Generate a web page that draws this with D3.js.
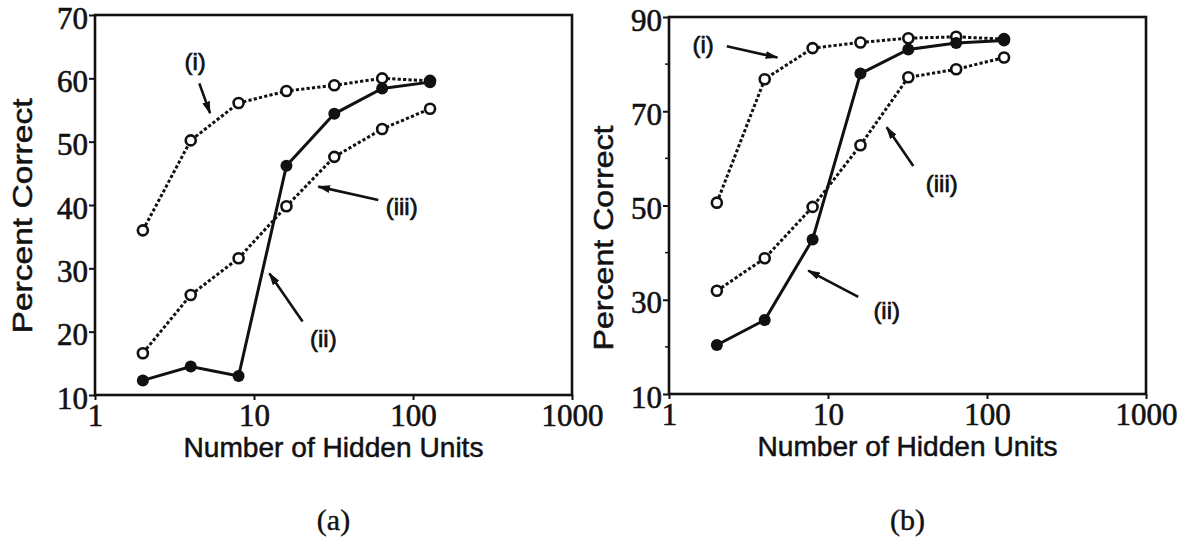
<!DOCTYPE html>
<html lang="en">
<head>
<meta charset="UTF-8">
<title>Percent Correct vs Hidden Units</title>
<script src="https://d3js.org/d3.v7.min.js"></script>
<style>
  body { margin: 0; background: #fff; }
  .tick-label { font-family: "Liberation Serif", "DejaVu Serif", serif; font-size: 31px; fill: #111; stroke: #111; stroke-width: 0.6; }
  .axis-title { font-family: "Liberation Sans", Arial, sans-serif; font-size: 28px; fill: #111; stroke: #111; stroke-width: 0.5; }
  .note { font-family: "Liberation Sans", Arial, sans-serif; font-size: 24px; fill: #111; stroke: #111; stroke-width: 0.7; }
  .caption { font-family: "Liberation Serif", "DejaVu Serif", serif; font-size: 30px; fill: #111; stroke: #111; stroke-width: 0.4; }
</style>
</head>
<body>
<div id="chart"></div>
<script>
// x values shared by every curve
const hiddenUnits = [2, 4, 8, 16, 32, 64, 128];
const xTicks = [1, 10, 100, 1000];

// panel (a)
const aCurveI   = [36.0, 50.2, 56.1, 58.0, 58.9, 60.0, 59.6];
const aCurveII  = [12.3, 14.5, 13.0, 46.2, 54.4, 58.4, 59.4];
const aCurveIII = [16.6, 25.8, 31.6, 39.8, 47.6, 52.0, 55.2];
const aYTicks = [10, 20, 30, 40, 50, 60, 70];

// panel (b)
const bCurveI   = [50.6, 76.8, 83.4, 84.6, 85.5, 85.8, 85.3];
const bCurveII  = [20.4, 25.7, 42.8, 78.0, 83.1, 84.5, 85.0];
const bCurveIII = [31.9, 38.8, 49.7, 62.8, 77.2, 78.9, 81.4];
const bYTicks = [10, 30, 50, 70, 90];
const bYMinor = [20, 40, 60, 80];

// curve labels: text position and arrow (from -> to), in data units
const aNotes = [
  { text: "(i)",   at: [4.26, 62.6], from: [4.53, 59.2], to: [5.29, 54.5] },
  { text: "(iii)", at: [84.9, 39.7], from: [60.5, 40.8], to: [25.4, 42.9] },
  { text: "(ii)",  at: [27.3, 19.0], from: [20.2, 21.6], to: [12.5, 29.2] }
];
const bNotes = [
  { text: "(i)",   at: [1.64, 84.1], from: [2.31, 83.8], to: [4.80, 81.4] },
  { text: "(iii)", at: [51.9, 54.7], from: [34.4, 58.4], to: [23.4, 66.6] },
  { text: "(ii)",  at: [23.4, 27.8], from: [15.5, 30.6], to: [7.52, 36.2] }
];

const W = 1186, H = 556;

const svg = d3.select("#chart").append("svg")
  .attr("width", W)
  .attr("height", H);

svg.append("rect").attr("width", W).attr("height", H).attr("fill", "#fff");

const defs = svg.append("defs");
defs.append("marker")
  .attr("id", "head")
  .attr("viewBox", "0 0 10 6")
  .attr("refX", 9)
  .attr("refY", 3)
  .attr("markerWidth", 5)
  .attr("markerHeight", 3)
  .attr("markerUnits", "strokeWidth")
  .attr("orient", "auto")
  .append("path")
  .attr("d", "M0,0 L10,3 L0,6 Z")
  .attr("fill", "#111");

function drawPanel(cfg) {
  const x = d3.scaleLog().domain([1, 1000]).range([cfg.left, cfg.right]);
  const y = d3.scaleLinear().domain(cfg.yDomain).range([cfg.bottom, cfg.top]);
  const g = svg.append("g");

  // frame
  g.append("rect")
    .attr("x", cfg.left).attr("y", cfg.top)
    .attr("width", cfg.right - cfg.left)
    .attr("height", cfg.bottom - cfg.top)
    .attr("fill", "none")
    .attr("stroke", "#111")
    .attr("stroke-width", 2.6);

  // y axis
  const yAxis = g.append("g")
    .attr("transform", `translate(${cfg.left},0)`)
    .call(d3.axisLeft(y).tickValues(cfg.yTicks).tickSize(6).tickPadding(1).tickFormat(d3.format("d")));
  yAxis.select(".domain").remove();
  yAxis.selectAll("line").attr("stroke", "#111").attr("stroke-width", 2);
  yAxis.selectAll("text").attr("class", "tick-label").attr("dy", "0.42em");

  if (cfg.yMinor) {
    g.selectAll(".yminor").data(cfg.yMinor).enter().append("line")
      .attr("x1", cfg.left - 4).attr("x2", cfg.left)
      .attr("y1", d => y(d)).attr("y2", d => y(d))
      .attr("stroke", "#111").attr("stroke-width", 1.5);
  }

  // x axis
  const xAxis = g.append("g")
    .attr("transform", `translate(0,${cfg.bottom})`)
    .call(d3.axisBottom(x).tickValues(xTicks).tickSize(5).tickPadding(1).tickFormat(d3.format("d")));
  xAxis.select(".domain").remove();
  xAxis.selectAll("line").attr("stroke", "#111").attr("stroke-width", 2);
  xAxis.selectAll("text").attr("class", "tick-label").attr("dy", "0.8em");

  // axis titles
  g.append("text")
    .attr("class", "axis-title")
    .attr("text-anchor", "middle")
    .attr("x", (cfg.left + cfg.right) / 2)
    .attr("y", cfg.bottom + 62)
    .attr("textLength", 300)
    .attr("lengthAdjust", "spacingAndGlyphs")
    .text("Number of Hidden Units");

  g.append("text")
    .attr("class", "axis-title")
    .attr("text-anchor", "middle")
    .attr("dominant-baseline", "central")
    .attr("transform", `translate(${cfg.yTitleX},${cfg.yTitleY}) rotate(-90)`)
    .attr("textLength", cfg.yTitleLen)
    .attr("lengthAdjust", "spacingAndGlyphs")
    .text("Percent Correct");

  // caption
  g.append("text")
    .attr("class", "caption")
    .attr("text-anchor", "middle")
    .attr("x", (cfg.left + cfg.right) / 2)
    .attr("y", 530)
    .text(cfg.caption);

  const line = d3.line()
    .x((d, i) => x(hiddenUnits[i]))
    .y(d => y(d));

  // dotted curves (i) and (iii), then solid (ii) on top
  [cfg.curveI, cfg.curveIII].forEach(vals => {
    g.append("path")
      .datum(vals)
      .attr("d", line)
      .attr("fill", "none")
      .attr("stroke", "#111")
      .attr("stroke-width", 3)
      .attr("stroke-dasharray", "3.2,2.2");
  });
  g.append("path")
    .datum(cfg.curveII)
    .attr("d", line)
    .attr("fill", "none")
    .attr("stroke", "#111")
    .attr("stroke-width", 3);

  [cfg.curveI, cfg.curveIII].forEach(vals => {
    g.selectAll(null).data(vals).enter().append("circle")
      .attr("cx", (d, i) => x(hiddenUnits[i]))
      .attr("cy", d => y(d))
      .attr("r", 5)
      .attr("fill", "#fff")
      .attr("stroke", "#111")
      .attr("stroke-width", 2.6);
  });
  g.selectAll(null).data(cfg.curveII).enter().append("circle")
    .attr("cx", (d, i) => x(hiddenUnits[i]))
    .attr("cy", d => y(d))
    .attr("r", 6)
    .attr("fill", "#111");

  // labels with pointers
  cfg.notes.forEach(n => {
    g.append("line")
      .attr("x1", x(n.from[0])).attr("y1", y(n.from[1]))
      .attr("x2", x(n.to[0])).attr("y2", y(n.to[1]))
      .attr("stroke", "#111")
      .attr("stroke-width", 2.6)
      .attr("marker-end", "url(#head)");
    g.append("text")
      .attr("class", "note")
      .attr("text-anchor", "middle")
      .attr("dominant-baseline", "central")
      .attr("x", x(n.at[0]))
      .attr("y", y(n.at[1]))
      .text(n.text);
  });
}

drawPanel({
  left: 95, right: 572, top: 15, bottom: 395,
  yDomain: [10, 70], yTicks: aYTicks,
  yTitleX: 22, yTitleY: 216, yTitleLen: 235,
  curveI: aCurveI, curveII: aCurveII, curveIII: aCurveIII,
  notes: aNotes, caption: "(a)"
});

drawPanel({
  left: 669, right: 1146, top: 17, bottom: 394,
  yDomain: [10, 90], yTicks: bYTicks, yMinor: bYMinor,
  yTitleX: 603, yTitleY: 238, yTitleLen: 225,
  curveI: bCurveI, curveII: bCurveII, curveIII: bCurveIII,
  notes: bNotes, caption: "(b)"
});
</script>
</body>
</html>
